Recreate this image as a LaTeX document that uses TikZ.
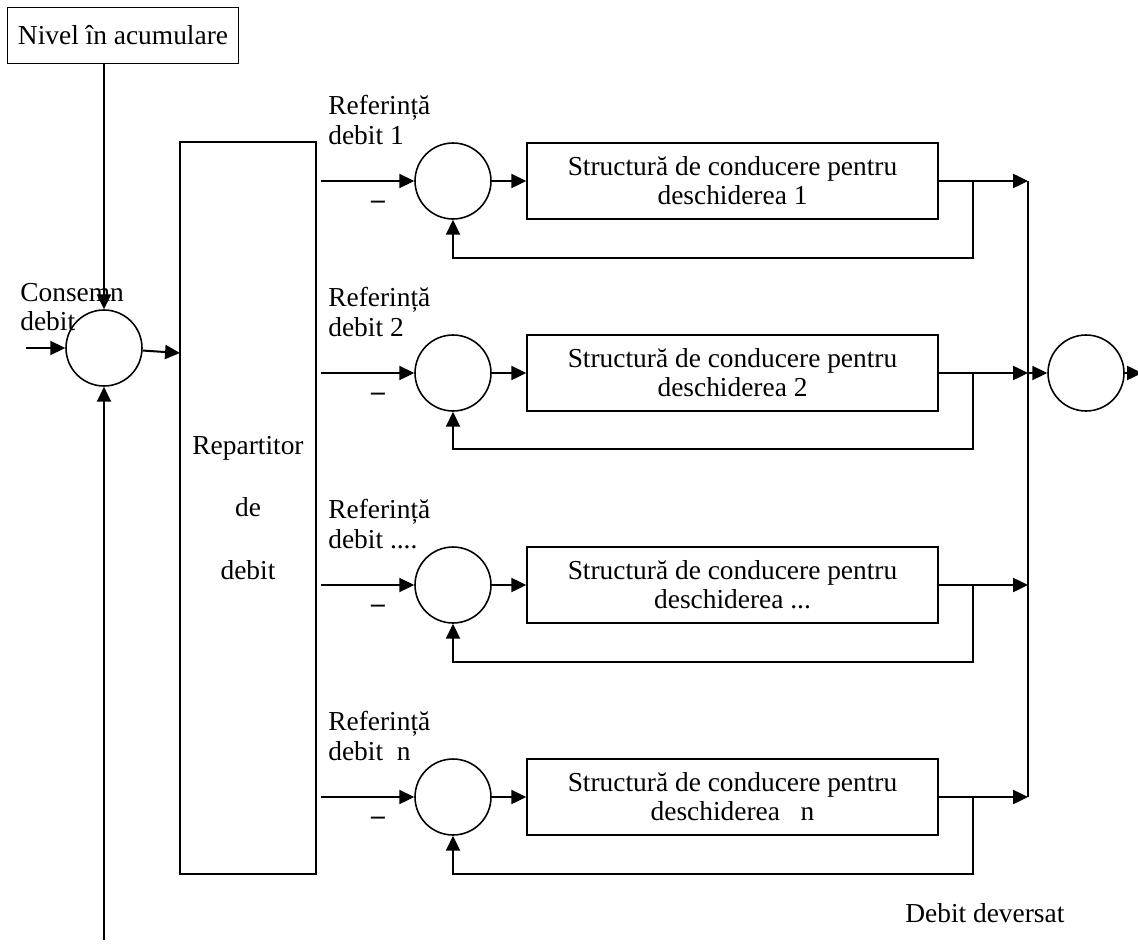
\documentclass[tikz,border=0pt]{standalone}
\usepackage{fontspec}
\setmainfont{Liberation Serif}
\usetikzlibrary{arrows.meta}

\begin{document}
\begin{tikzpicture}[x=0.02cm, y=-0.02cm, >={Triangle[length=8.5pt,width=8pt]},
    font=\fontsize{15.6}{16.6}\selectfont,
    sumnode/.style={circle, draw, line width=0.9pt, minimum size=1.52cm, inner sep=0pt},
    ctrlbox/.style={rectangle, draw, line width=0.9pt, minimum width=8.22cm, minimum height=1.52cm, align=center, inner sep=0pt},
    lbl/.style={align=left, inner sep=0pt},
    wire/.style={line width=1.15pt}]
    \useasboundingbox (0,0) rectangle (1138,949);

    % Left side: level, setpoint summing point, distributor
    \node[rectangle, draw, line width=0.9pt, minimum width=4.62cm, minimum height=1.12cm, inner sep=0pt] (nivel) at (123,35.5) {Nivel în acumulare};
    \node[sumnode] (lsum) at (104,348) {};
    \node[lbl, anchor=west] (consemn) at (20,307) {Consemn\\debit};
    \node[rectangle, draw, line width=0.9pt, minimum width=2.72cm, minimum height=14.64cm, align=center] (rep) at (248,508) {Repartitor\\[19pt]de\\[19pt]debit};
    \coordinate (consin) at (26,348);
    \coordinate (nivbot) at (104,940);
    \coordinate (repin) at (180,353);

    % Row 1
    \node[sumnode] (s1) at (453,181) {};
    \node[ctrlbox] (c1) at (732.5,181) {Structură de conducere pentru\\deschiderea 1};
    \node[lbl, anchor=west] (r1) at (328,120) {Referință\\debit 1};
    \node (m1) at (378,205) {\textbf{–}};
    \coordinate (in1) at (321,181);
    \coordinate (b1) at (973,181);
    \coordinate (fb1) at (973,258);
    \coordinate (bus1) at (1028,181);

    % Row 2
    \node[sumnode] (s2) at (453,373) {};
    \node[ctrlbox] (c2) at (732.5,373) {Structură de conducere pentru\\deschiderea 2};
    \node[lbl, anchor=west] (r2) at (328,312) {Referință\\debit 2};
    \node (m2) at (378,397) {\textbf{–}};
    \coordinate (in2) at (321,373);
    \coordinate (b2) at (973,373);
    \coordinate (fb2) at (973,449);
    \coordinate (bus2) at (1028,373);

    % Row 3
    \node[sumnode] (s3) at (453,585) {};
    \node[ctrlbox] (c3) at (732.5,585) {Structură de conducere pentru\\deschiderea ...};
    \node[lbl, anchor=west] (r3) at (328,524) {Referință\\debit ....};
    \node (m3) at (378,609) {\textbf{–}};
    \coordinate (in3) at (321,585);
    \coordinate (b3) at (973,585);
    \coordinate (fb3) at (973,662);
    \coordinate (bus3) at (1028,585);

    % Row 4
    \node[sumnode] (s4) at (453,797) {};
    \node[ctrlbox] (c4) at (732.5,797) {Structură de conducere pentru\\deschiderea~~~n};
    \node[lbl, anchor=west] (r4) at (328,736) {Referință\\debit~~n};
    \node (m4) at (378,821) {\textbf{–}};
    \coordinate (in4) at (321,797);
    \coordinate (b4) at (973,797);
    \coordinate (fb4) at (973,874);
    \coordinate (bus4) at (1028,797);

    % Output summing point
    \node[sumnode] (sout) at (1086,373) {};
    \node[anchor=base west, inner sep=0pt] (deversat) at (905,922) {Debit deversat};
    \coordinate (outend) at (1142,373);

    % Arrows
    \draw[wire, ->] (nivel.south -| lsum) -- (lsum);
    \draw[wire, ->] (consin) -- (lsum);
    \draw[wire, ->] (nivbot) -- (lsum);
    \draw[wire, ->] (lsum) -- (repin);

    \draw[wire, ->] (in1) -- (s1);
    \draw[wire, ->] (s1) -- (c1);
    \draw[wire, ->] (c1) -- (bus1);
    \draw[wire, ->] (b1) -- (fb1) -| (s1.south);

    \draw[wire, ->] (in2) -- (s2);
    \draw[wire, ->] (s2) -- (c2);
    \draw[wire, ->] (c2) -- (bus2);
    \draw[wire, ->] (b2) -- (fb2) -| (s2.south);

    \draw[wire, ->] (in3) -- (s3);
    \draw[wire, ->] (s3) -- (c3);
    \draw[wire, ->] (c3) -- (bus3);
    \draw[wire, ->] (b3) -- (fb3) -| (s3.south);

    \draw[wire, ->] (in4) -- (s4);
    \draw[wire, ->] (s4) -- (c4);
    \draw[wire, ->] (c4) -- (bus4);
    \draw[wire, ->] (b4) -- (fb4) -| (s4.south);

    \draw[wire] (bus1) -- (bus4);
    \draw[wire, ->] (bus2) -- (sout);
    \draw[wire, ->] (sout) -- (outend);
\end{tikzpicture}
\end{document}
